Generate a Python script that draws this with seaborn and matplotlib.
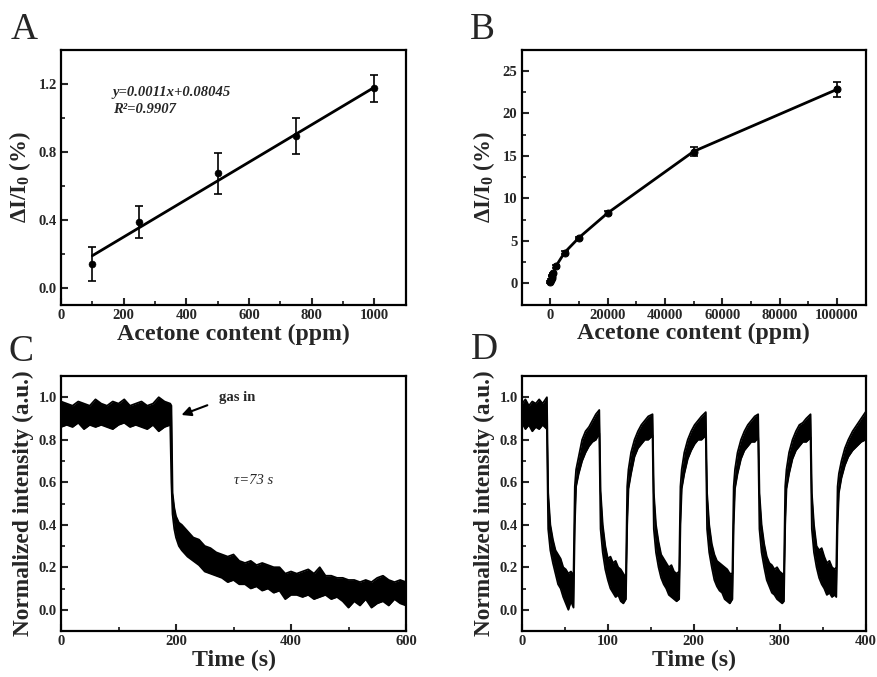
import numpy as np
import pandas as pd
import matplotlib
matplotlib.use("Agg")
import matplotlib.pyplot as plt
from matplotlib.ticker import MultipleLocator
import seaborn as sns

# ---------------- data ----------------
# Panel A: linear range
a_x = [100, 250, 500, 750, 1000]
a_y = [0.14, 0.39, 0.675, 0.895, 1.175]
a_err = [0.10, 0.095, 0.12, 0.105, 0.08]
a_fit_x = [100, 1000]
a_fit_y = [0.19, 1.18]

# Panel B: full range
b_x = [100, 250, 500, 750, 1000, 2000, 5000, 10000, 20000, 50000, 100000]
b_y = [0.14, 0.39, 0.675, 0.895, 1.175, 2.0, 3.6, 5.35, 8.25, 15.5, 22.8]
b_err = [0.1, 0.1, 0.12, 0.1, 0.08, 0.15, 0.15, 0.15, 0.2, 0.5, 0.9]

# Panel C: response trace (upper / lower envelope of noisy signal)
c_t = [0, 10, 20, 30, 40, 50, 60, 70, 80, 90, 100, 110, 120, 130, 140, 150, 160, 170, 180, 190,
       192, 194, 197, 200, 205, 210, 220, 230, 240, 250, 260, 270, 280, 290, 300, 310, 320, 330,
       340, 350, 360, 370, 380, 390, 400, 410, 420, 430, 440, 450, 460, 470, 480, 490, 500, 510,
       520, 530, 540, 550, 560, 570, 580, 590, 600]
c_up = [0.98, 0.97, 0.96, 0.98, 0.97, 0.96, 0.99, 0.97, 0.96, 0.98, 0.97, 0.99, 0.96, 0.97, 0.98,
        0.96, 0.97, 1.0, 0.98, 0.97,
        0.96, 0.55, 0.48, 0.44, 0.41, 0.40, 0.37, 0.34, 0.33, 0.30, 0.29, 0.27, 0.26, 0.25, 0.26,
        0.23, 0.22, 0.23, 0.21, 0.22, 0.21, 0.20, 0.20, 0.17, 0.18, 0.17, 0.18, 0.19, 0.17, 0.20,
        0.16, 0.16, 0.15, 0.15, 0.14, 0.14, 0.13, 0.14, 0.13, 0.15, 0.16, 0.14, 0.13, 0.14, 0.13]
c_lo = [0.86, 0.87, 0.86, 0.88, 0.85, 0.87, 0.86, 0.87, 0.86, 0.85, 0.87, 0.88, 0.86, 0.87, 0.86,
        0.85, 0.87, 0.84, 0.86, 0.87,
        0.60, 0.45, 0.38, 0.34, 0.30, 0.28, 0.25, 0.23, 0.21, 0.18, 0.17, 0.16, 0.15, 0.13, 0.14,
        0.12, 0.12, 0.10, 0.11, 0.09, 0.10, 0.08, 0.09, 0.05, 0.07, 0.07, 0.06, 0.07, 0.05, 0.06,
        0.07, 0.05, 0.06, 0.04, 0.01, 0.04, 0.02, 0.05, 0.01, 0.03, 0.04, 0.02, 0.05, 0.03, 0.02]

# Panel D: cycling response (upper / lower envelope)
d_t = [0, 4, 8, 12, 16, 20, 24, 29,
       30.5, 33, 36, 39, 42, 45, 48, 51, 54, 57, 60,
       61.5, 63, 66, 70, 74, 78, 82, 86, 90,
       91.5, 94, 97, 100, 103, 106, 109, 112, 115, 118, 121,
       122.5, 124, 127, 131, 135, 139, 143, 147, 152,
       153.5, 156, 159, 162, 165, 168, 171, 174, 177, 180, 183,
       184.5, 186, 189, 193, 197, 201, 205, 209, 214,
       215.5, 218, 221, 224, 227, 230, 233, 236, 239, 242, 245,
       246.5, 248, 251, 255, 259, 263, 267, 271, 275,
       276.5, 279, 282, 285, 288, 291, 294, 297, 300, 303, 305,
       306.5, 308, 311, 315, 319, 323, 327, 331, 336,
       337.5, 340, 343, 346, 349, 352, 355, 358, 361, 364, 366,
       367.5, 369, 372, 376, 380, 385, 390, 395, 400]
d_up = [0.97, 0.99, 0.96, 0.98, 0.97, 0.99, 0.97, 1.0,
        0.55, 0.40, 0.33, 0.28, 0.26, 0.24, 0.20, 0.19, 0.17, 0.18, 0.16,
        0.58, 0.66, 0.72, 0.80, 0.84, 0.86, 0.89, 0.92, 0.94,
        0.56, 0.40, 0.30, 0.24, 0.25, 0.22, 0.23, 0.20, 0.19, 0.17, 0.15,
        0.58, 0.66, 0.74, 0.80, 0.84, 0.87, 0.89, 0.91, 0.92,
        0.55, 0.40, 0.32, 0.26, 0.24, 0.22, 0.20, 0.21, 0.18, 0.17, 0.18,
        0.58, 0.66, 0.74, 0.80, 0.84, 0.87, 0.89, 0.91, 0.93,
        0.55, 0.40, 0.31, 0.26, 0.23, 0.22, 0.21, 0.20, 0.19, 0.17, 0.17,
        0.58, 0.66, 0.74, 0.80, 0.84, 0.87, 0.89, 0.91, 0.92,
        0.55, 0.40, 0.31, 0.25, 0.22, 0.21, 0.19, 0.20, 0.18, 0.17, 0.16,
        0.58, 0.66, 0.74, 0.80, 0.84, 0.87, 0.88, 0.90, 0.92,
        0.55, 0.40, 0.30, 0.28, 0.29, 0.25, 0.22, 0.23, 0.20, 0.19, 0.20,
        0.58, 0.64, 0.70, 0.76, 0.80, 0.84, 0.87, 0.90, 0.93]
d_lo = [0.88, 0.85, 0.87, 0.84, 0.86, 0.85, 0.87, 0.85,
        0.38, 0.28, 0.22, 0.17, 0.12, 0.10, 0.06, 0.03, 0.00, 0.04, 0.01,
        0.40, 0.58, 0.64, 0.70, 0.74, 0.77, 0.79, 0.80, 0.83,
        0.38, 0.27, 0.19, 0.14, 0.10, 0.08, 0.06, 0.07, 0.04, 0.03, 0.05,
        0.40, 0.57, 0.64, 0.72, 0.76, 0.78, 0.80, 0.80, 0.82,
        0.38, 0.27, 0.20, 0.15, 0.12, 0.10, 0.07, 0.06, 0.05, 0.04, 0.05,
        0.40, 0.57, 0.64, 0.71, 0.75, 0.78, 0.80, 0.80, 0.82,
        0.38, 0.27, 0.20, 0.14, 0.11, 0.09, 0.08, 0.05, 0.04, 0.03, 0.05,
        0.40, 0.57, 0.64, 0.71, 0.75, 0.77, 0.79, 0.79, 0.81,
        0.38, 0.27, 0.20, 0.14, 0.11, 0.08, 0.07, 0.05, 0.04, 0.03, 0.04,
        0.40, 0.57, 0.64, 0.71, 0.75, 0.77, 0.79, 0.79, 0.81,
        0.38, 0.27, 0.20, 0.15, 0.12, 0.10, 0.07, 0.08, 0.06, 0.07, 0.06,
        0.40, 0.55, 0.62, 0.68, 0.72, 0.75, 0.77, 0.79, 0.80]

panel_letters = ["A", "B", "C", "D"]

# ---------------- style ----------------
sns.set_style("ticks")
plt.rcParams["font.family"] = ["Liberation Serif", "DejaVu Serif"]
plt.rcParams["font.weight"] = "bold"
plt.rcParams["axes.labelweight"] = "bold"
plt.rcParams["mathtext.fontset"] = "custom"
plt.rcParams["mathtext.rm"] = "Liberation Serif:bold"
plt.rcParams["mathtext.bf"] = "Liberation Serif:bold"
plt.rcParams["mathtext.it"] = "Liberation Serif:italic:bold"
plt.rcParams["mathtext.default"] = "bf"

W, H = 877, 677
fig = plt.figure(figsize=(W / 100, H / 100), dpi=100)


def make_ax(l, r, t, b):
    return fig.add_axes([l / W, 1 - b / H, (r - l) / W, (b - t) / H])


axA = make_ax(61, 405.5, 50, 305)
axB = make_ax(521.5, 865.5, 49.5, 304.5)
axC = make_ax(61, 406, 376, 631)
axD = make_ax(522, 865.5, 376, 631)

XLAB = 17.2
YLAB_AB = 16.5
YLAB_CD = 16.8
TICK = 10.5


def style(ax, xmaj, xmin, ymaj, ymin):
    for s in ax.spines.values():
        s.set_linewidth(1.6)
        s.set_color("black")
        s.set_visible(True)
    ax.xaxis.set_major_locator(MultipleLocator(xmaj))
    ax.xaxis.set_minor_locator(MultipleLocator(xmin))
    ax.yaxis.set_major_locator(MultipleLocator(ymaj))
    ax.yaxis.set_minor_locator(MultipleLocator(ymin))
    ax.tick_params(which="major", direction="in", length=5, width=1.5,
                   labelsize=TICK, top=False, right=False, pad=3)
    ax.tick_params(which="minor", direction="in", length=3, width=1.3,
                   top=False, right=False)


# ---- Panel A ----
ax = axA
ax.errorbar(a_x, a_y, yerr=a_err, fmt="none", ecolor="black", elinewidth=1.2,
            capsize=3, capthick=1.2)
sns.lineplot(x=a_fit_x, y=a_fit_y, ax=ax, color="black", lw=2)
sns.scatterplot(x=a_x, y=a_y, ax=ax, color="black", s=25, edgecolor="black", zorder=5)
ax.set_xlim(0, 1100)
ax.set_ylim(-0.1, 1.4)
style(ax, 200, 100, 0.4, 0.2)
ax.set_xticks([0, 200, 400, 600, 800, 1000])
ax.set_yticks([0.0, 0.4, 0.8, 1.2])
ax.set_yticklabels(["0.0", "0.4", "0.8", "1.2"])
ax.set_xlabel("Acetone content (ppm)", fontsize=XLAB, fontweight="bold", labelpad=1)
ax.set_ylabel("ΔI/I$_0$ (%)", fontsize=YLAB_AB, fontweight="bold", labelpad=4)
ax.text(165, 1.15, "y=0.0011x+0.08045", fontsize=10.5, fontweight="bold",
        style="italic", va="center", ha="left")
ax.text(165, 1.05, "R²=0.9907", fontsize=10.5, fontweight="bold",
        style="italic", va="center", ha="left")

# ---- Panel B ----
ax = axB
ax.errorbar(b_x, b_y, yerr=b_err, fmt="none", ecolor="black", elinewidth=1.2,
            capsize=3, capthick=1.2)
sns.lineplot(x=b_x, y=b_y, ax=ax, color="black", lw=2, marker="o",
             markersize=5, markeredgecolor="black")
ax.set_xlim(-10000, 110000)
ax.set_ylim(-2.5, 27.5)
style(ax, 20000, 10000, 5, 2.5)
ax.set_xlabel("Acetone content (ppm)", fontsize=XLAB, fontweight="bold", labelpad=1)
ax.set_ylabel("ΔI/I$_0$ (%)", fontsize=YLAB_AB, fontweight="bold", labelpad=4)

# ---- Panel C ----
ax = axC
ax.fill_between(c_t, c_lo, c_up, color="black", lw=0)
sns.lineplot(x=c_t, y=c_up, ax=ax, color="black", lw=1.3)
sns.lineplot(x=c_t, y=c_lo, ax=ax, color="black", lw=1.3)
ax.set_xlim(0, 600)
ax.set_ylim(-0.1, 1.1)
style(ax, 200, 100, 0.2, 0.1)
ax.set_yticks([0.0, 0.2, 0.4, 0.6, 0.8, 1.0])
ax.set_yticklabels(["0.0", "0.2", "0.4", "0.6", "0.8", "1.0"])
ax.set_xlabel("Time (s)", fontsize=XLAB, fontweight="bold", labelpad=1)
ax.set_ylabel("Normalized intensity (a.u.)", fontsize=YLAB_CD, fontweight="bold", labelpad=3)
ax.annotate("", xy=(205, 0.912), xytext=(259, 0.967),
            arrowprops=dict(arrowstyle="-|>", color="black", lw=1.5,
                            mutation_scale=14))
ax.text(275, 1.0, "gas in", fontsize=10.5, fontweight="bold", va="center", ha="left")
ax.text(301, 0.61, "τ=73 s", fontsize=10.5, fontweight="normal", style="italic",
        va="center", ha="left")

# ---- Panel D ----
ax = axD
ax.fill_between(d_t, d_lo, d_up, color="black", lw=0)
sns.lineplot(x=d_t, y=d_up, ax=ax, color="black", lw=1.3)
sns.lineplot(x=d_t, y=d_lo, ax=ax, color="black", lw=1.3)
ax.set_xlim(0, 400)
ax.set_ylim(-0.1, 1.1)
style(ax, 100, 50, 0.2, 0.1)
ax.set_yticks([0.0, 0.2, 0.4, 0.6, 0.8, 1.0])
ax.set_yticklabels(["0.0", "0.2", "0.4", "0.6", "0.8", "1.0"])
ax.set_xlabel("Time (s)", fontsize=XLAB, fontweight="bold", labelpad=1)
ax.set_ylabel("Normalized intensity (a.u.)", fontsize=YLAB_CD, fontweight="bold", labelpad=3)

for a in (axA, axB, axC, axD):
    for lab in a.get_xticklabels() + a.get_yticklabels():
        lab.set_fontweight("bold")

# panel letters
letter_pos = [(11, 39), (470, 39), (9, 361), (471, 359)]
for letter, (px, py) in zip(panel_letters, letter_pos):
    fig.text(px / W, 1 - py / H, letter, fontsize=27, fontweight="normal",
             ha="left", va="baseline")

fig.savefig("out.png", dpi=100)
